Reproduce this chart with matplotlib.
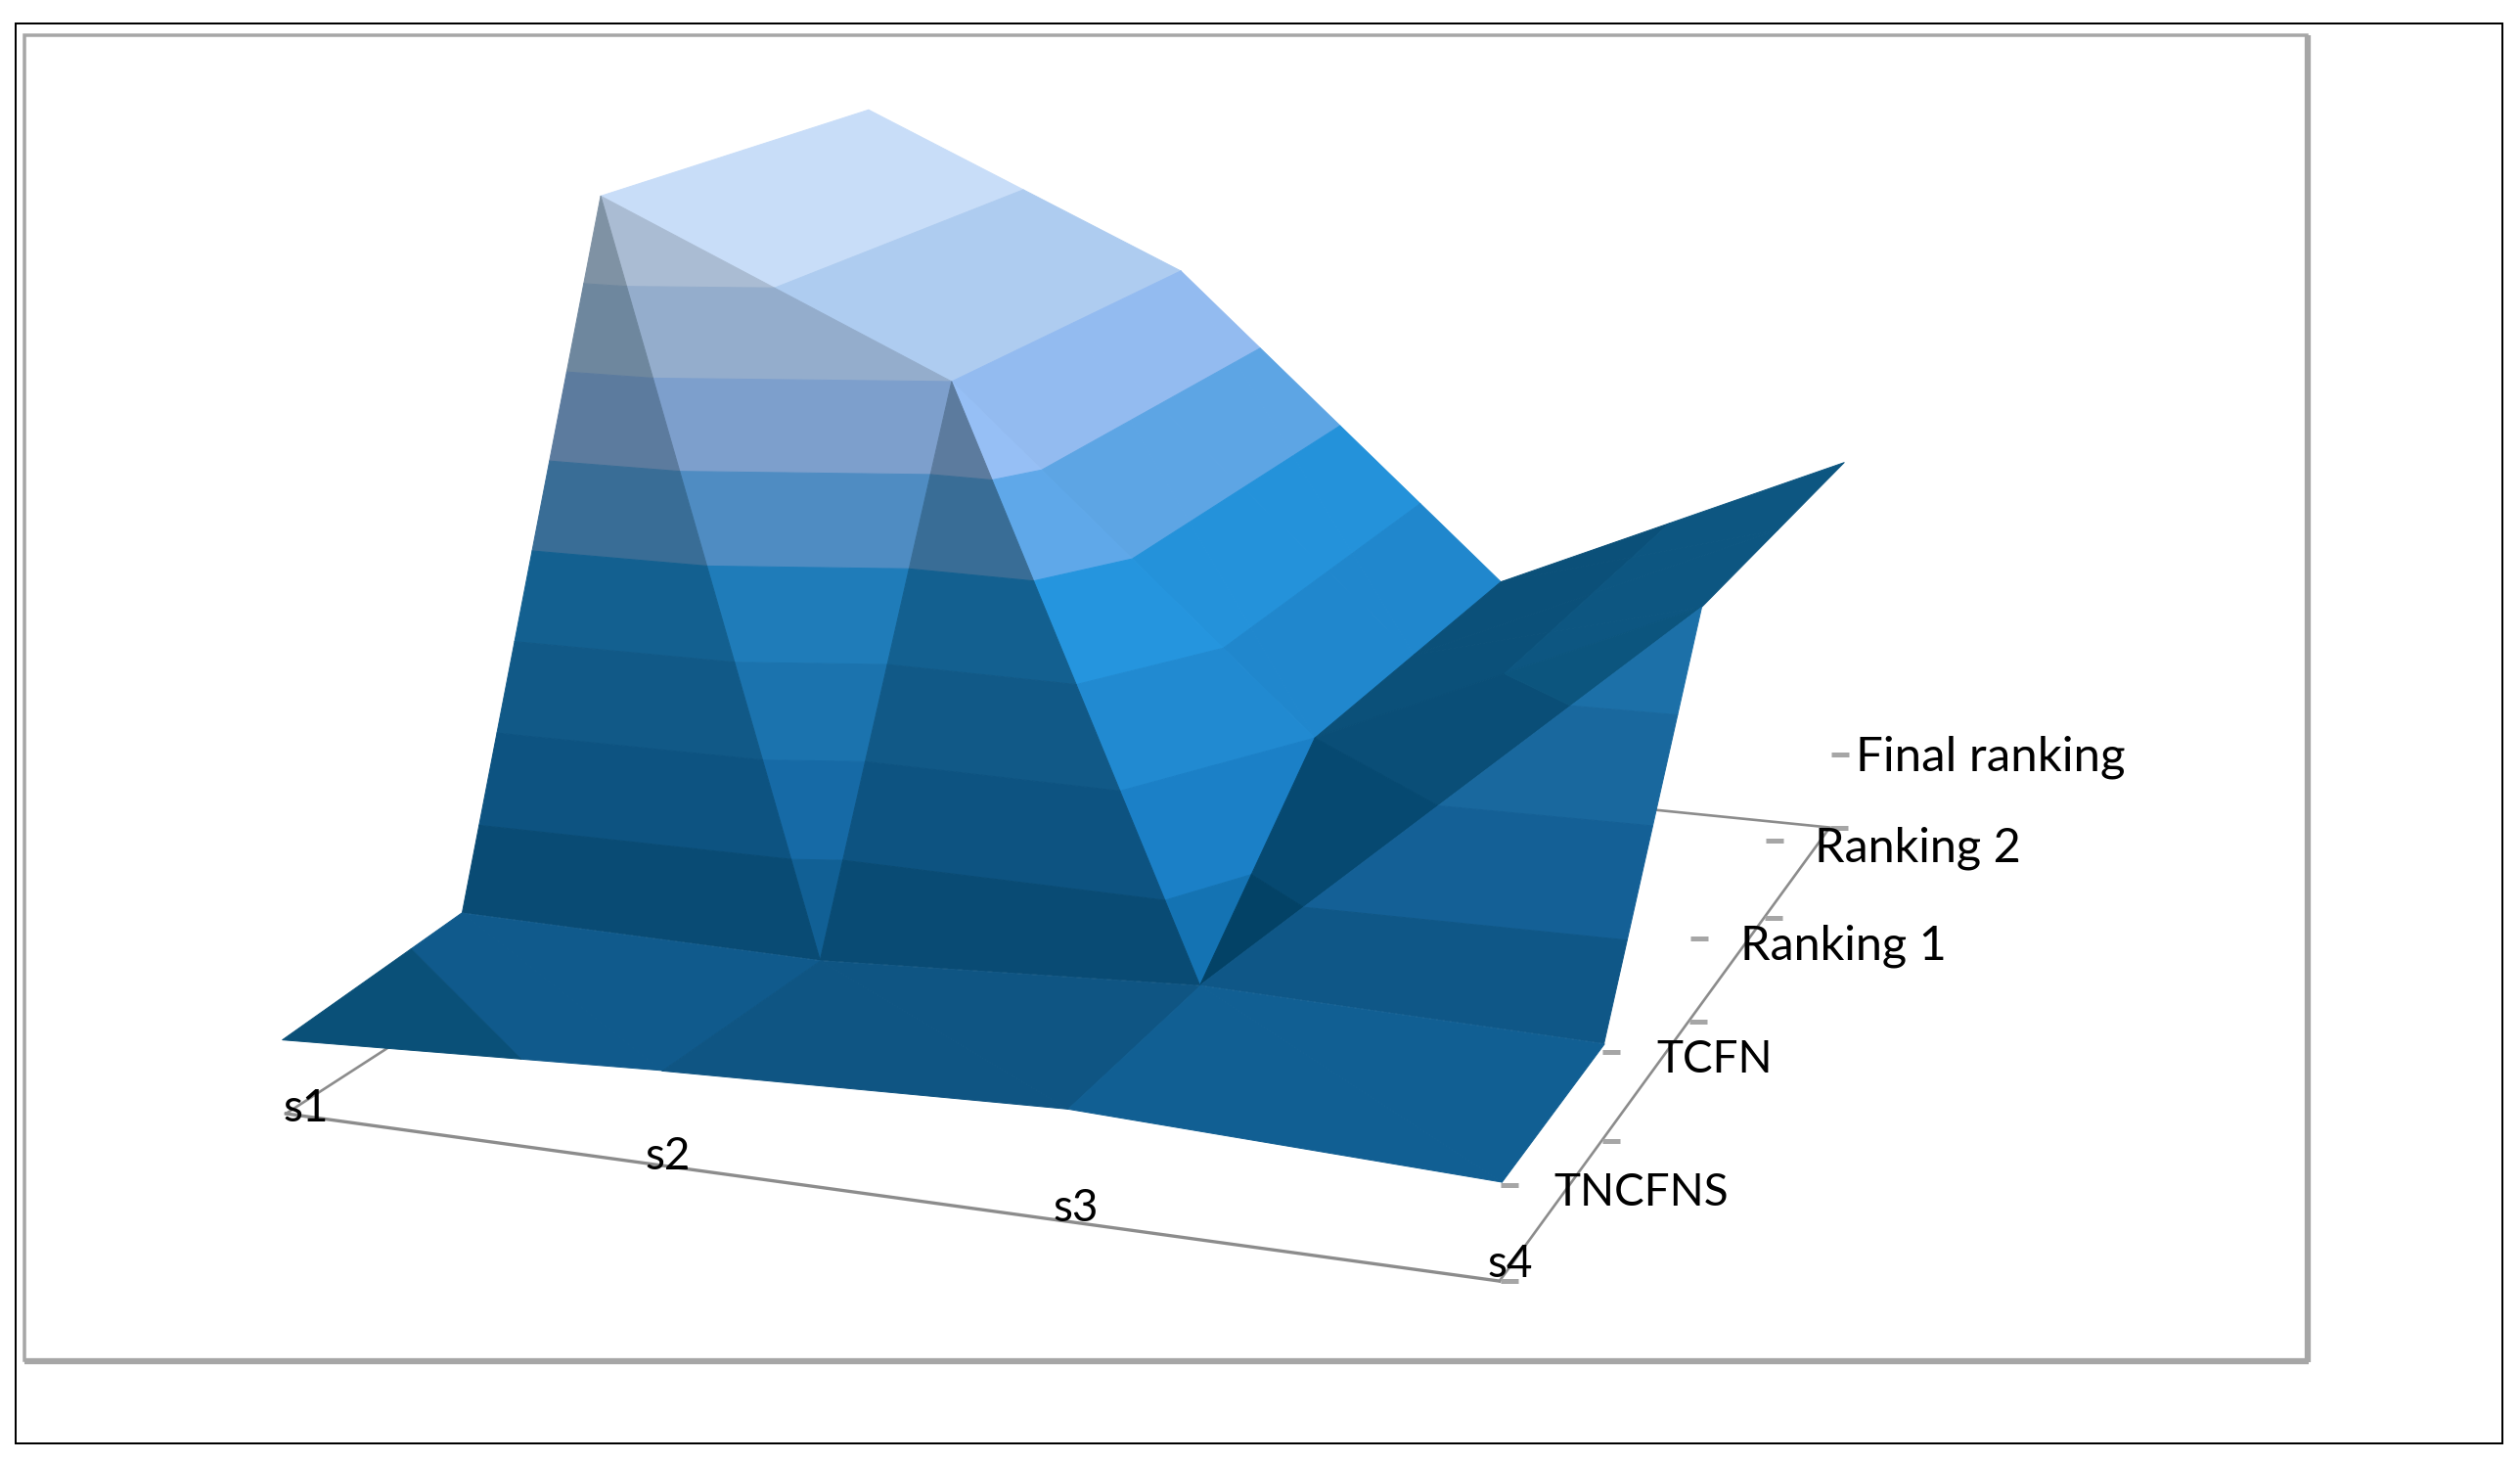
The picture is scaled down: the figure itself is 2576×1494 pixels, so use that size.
# surface chart, rankings of s1..s4 by method
import numpy as np
import matplotlib
matplotlib.use('Agg')
import matplotlib.pyplot as plt
from matplotlib.lines import Line2D
from matplotlib.patches import Rectangle
from matplotlib.transforms import Affine2D
from mpl_toolkits.mplot3d import proj3d
from mpl_toolkits.mplot3d.art3d import Poly3DCollection

W, H = 2576, 1494

# data
categories = ['s1', 's2', 's3', 's4']
series = ['TNCFNS', 'TCFN', 'Ranking 1', 'Ranking 2', 'Final ranking']
tncfns = [0.43, 0.54, 0.62, 0.53]
tcfn = [0.53, 0.50, 0.62, 0.56]
ranking1 = [4.5, 3.5, 1.5, 2.5]
ranking2 = [4.5, 3.5, 1.5, 2.5]
final_ranking = [4.5, 3.5, 1.5, 2.5]
band_step = 0.5

# band colours, low to high
band_colors = np.array([(12, 100, 150), (20, 113, 175), (26, 125, 195), (32, 135, 205),
                        (36, 146, 218), (93, 165, 228), (147, 187, 240), (174, 204, 240),
                        (200, 221, 248)]) / 255

# light on each facet: [row][col] -> (front triangle, back triangle)
shade = [[(0.80, 0.80), (0.75, 0.75), (0.84, 0.84)],
         [(0.66, 0.85), (0.66, 1.02), (0.77, 0.58)],
         [(1.0, 1.0), (1.0, 1.0), (0.59, 0.59)],
         [(1.0, 1.0), (1.0, 1.0), (0.59, 0.59)]]

Z = np.array([tncfns, tcfn, ranking1, ranking2, final_ranking])


def clip_band(tri, lo, hi):
    # cut a triangle down to the part between two heights
    poly = tri
    for level, sign in ((lo, 1), (hi, -1)):
        out = []
        for i in range(len(poly)):
            p, q = np.array(poly[i]), np.array(poly[(i + 1) % len(poly)])
            dp, dq = sign * (p[2] - level), sign * (q[2] - level)
            if dp >= 0:
                out.append(p)
            if dp * dq < 0:
                out.append(p + (q - p) * dp / (dp - dq))
        poly = out
        if not poly:
            break
    return poly


def lit(color, s):
    # the darkest facets lose their red first
    out = color * s - max(0, 0.75 - s) * np.array([0.2, 0, 0])
    return np.clip(out, 0, 1)


fig = plt.figure(figsize=(W / 100, H / 100), dpi=100)
plt.rcParams['font.family'] = ['Lato', 'DejaVu Sans']

ax = fig.add_axes([0.1515, 0.0765, H / W, 1.0], projection='3d')
ax.computed_zorder = False
ax.set_proj_type('persp', focal_length=0.565)
ax.view_init(elev=14.0, azim=-70)
ax.set_xlim(0, len(categories) - 1)
ax.set_ylim(0, len(series) - 1)
ax.set_zlim(0, Z.max())
ax.set_box_aspect((1.463, 1.75, 0.95), zoom=1.298)
ax.set_axis_off()
ax.apply_aspect()

# floor
n_c, n_s = len(categories) - 1, len(series) - 1
ax.plot([0, n_c], [0, 0], [0, 0], color='#8c8c8c', lw=2.4, zorder=1, clip_on=False)
ax.plot([n_c, n_c, 0, 0], [0, n_s, n_s, 0], [0, 0, 0, 0], color='#8c8c8c', lw=1.9, zorder=1, clip_on=False)

# surface, back rows first
order = 2
for r in range(n_s - 1, -1, -1):
    for c in range(n_c):
        A = (c, r, Z[r, c])
        B = (c + 1, r, Z[r, c + 1])
        C = (c + 1, r + 1, Z[r + 1, c + 1])
        D = (c, r + 1, Z[r + 1, c])
        if abs(A[2] - C[2]) > abs(B[2] - D[2]) + 0.5:
            tris = [(A, B, C), (A, C, D)]
        else:
            tris = [(A, B, D), (B, C, D)]
        picks = sorted(range(2), key=lambda i: -(np.mean([p[1] for p in tris[i]]) - 0.38 * np.mean([p[0] for p in tris[i]])))
        for i in picks:
            polys, cols = [], []
            for b in range(len(band_colors)):
                poly = clip_band(tris[i], b * band_step, (b + 1) * band_step)
                if len(poly) >= 3:
                    polys.append([tuple(p) for p in poly])
                    cols.append(lit(band_colors[b], shade[r][c][i]))
            pc = Poly3DCollection(polys, facecolors=cols, edgecolors=cols, linewidths=0.7, zorder=order, clip_on=False)
            ax.add_collection3d(pc)
            order += 1


def project(x, y, z):
    X, Y, _ = proj3d.proj_transform(x, y, z, ax.get_proj())
    return X, Y


def dash(x, y, z, dx=0):
    X, Y = project(x, y, z)
    ax.add_artist(Line2D([X], [Y], marker='_', ms=13.5, mew=3.6, color='#a6a6a6', clip_on=False,
                         transform=ax.transData + Affine2D().translate(dx, 0), zorder=200))


# category labels along the front edge
cat_dx = [20, 3, 8, 11]
cat_dy = [-16, -12, -8, -4]
for c, name in enumerate(categories):
    ax.annotate(name, project(c, 0, 0), xytext=(cat_dx[c], cat_dy[c]), textcoords='offset pixels', ha='center', va='bottom',
                fontsize=33, color='black', annotation_clip=False, zorder=210)

# series labels and their two sets of dashes
label_z = 0.51
label_pad = [50, 50, 46, 45, 20]
label_dy = [-8, -8, -8, -8, -3]
label_size = [33, 33, 35, 35, 35.5]
for r, name in enumerate(series):
    dash(n_c, r, 0, dx=10)
    dash(n_c, r, label_z, dx=8)
    ax.annotate(name, project(n_c, r, label_z), xytext=(label_pad[r] + 4, label_dy[r]), textcoords='offset pixels',
                ha='left', va='center', fontsize=label_size[r], color='black', annotation_clip=False, zorder=210)


# frames
def frame(x0, y0, x1, y1, color, lw):
    fig.add_artist(Rectangle((x0 / W, 1 - y1 / H), (x1 - x0) / W, (y1 - y0) / H, fill=False, ec=color,
                             lw=lw * 0.72, transform=fig.transFigure, joinstyle='miter'))


frame(16, 24, 2558, 1475, 'black', 2)
frame(25, 36, 2358, 1390, '#a6a6a6', 3.5)
fig.add_artist(Line2D([25 / W, 2360 / W], [1 - 1391 / H, 1 - 1391 / H], color='#a6a6a6', lw=4.5, solid_capstyle='butt'))
fig.add_artist(Line2D([2359 / W, 2359 / W], [1 - 36 / H, 1 - 1392 / H], color='#a6a6a6', lw=4.5, solid_capstyle='butt'))

fig.savefig('out.png', dpi=100)
